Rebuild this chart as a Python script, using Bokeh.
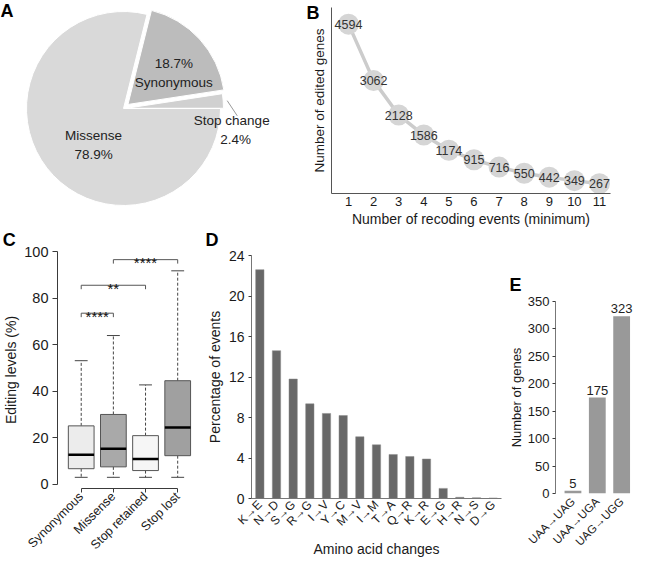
import math
from bokeh.plotting import figure
from bokeh.layouts import row, column
from bokeh.models import Range1d, FactorRange, FixedTicker, Label
from bokeh.core.properties import value
from bokeh.embed import file_html
from bokeh.resources import INLINE

# ---------------- data ----------------
pie_categories = ["Missense", "Synonymous", "Stop change"]
pie_percent = [78.9, 18.7, 2.4]

recoding_events = [1, 2, 3, 4, 5, 6, 7, 8, 9, 10, 11]
edited_genes = [4594, 3062, 2128, 1586, 1174, 915, 716, 550, 442, 349, 267]

box_categories = ["Synonymous", "Missense", "Stop retained", "Stop lost"]
box_whisker_low = [3.0, 3.0, 3.0, 3.0]
box_q1 = [6.7, 7.5, 5.9, 12.3]
box_median = [12.7, 15.3, 10.9, 24.4]
box_q3 = [25.1, 30.0, 20.9, 44.5]
box_whisker_high = [53.1, 63.9, 42.7, 91.7]
sig_pairs = [(1, 2), (1, 3), (2, 4)]
sig_levels = [73.5, 85.5, 96.5]
sig_marks = ["****", "**", "****"]

aa_changes = ["K→E", "N→D", "S→G", "R→G", "I→V", "Y→C", "M→V", "I→M",
              "T→A", "Q→R", "K→R", "E→G", "H→R", "N→S", "D→G"]
aa_percent = [22.6, 14.6, 11.8, 9.35, 8.4, 8.2, 6.1, 5.3,
              4.35, 4.15, 3.9, 1.0, 0.12, 0.08, 0.05]

stop_codon_changes = ["UAA→UAG", "UAA→UGA", "UAG→UGG"]
stop_gene_counts = [5, 175, 323]

# ---------------- style ----------------
FONT = "Liberation Sans"
AX = "#3a3a3a"
TXT = "#1a1a1a"


def make_fig(w, h, xr, yr, left, right, top, bottom, **kw):
    p = figure(width=w, height=h, x_range=xr, y_range=yr,
               output_backend="svg", toolbar_location=None,
               min_border_left=left, min_border_right=right,
               min_border_top=top, min_border_bottom=bottom, **kw)
    p.frame_align = False
    p.outline_line_color = None
    p.background_fill_color = "white"
    p.border_fill_color = "white"
    for g in p.grid:
        g.grid_line_color = None
    return p


def style_axis(ax, tick_size, label_size):
    ax.axis_line_color = AX
    ax.major_tick_line_color = AX
    ax.minor_tick_line_color = None
    ax.major_tick_in = 0
    ax.major_label_text_font = FONT
    ax.major_label_text_font_size = tick_size
    ax.major_label_text_color = TXT
    ax.axis_label_text_font = FONT
    ax.axis_label_text_font_size = label_size
    ax.axis_label_text_font_style = "normal"
    ax.axis_label_text_color = TXT


def letter(p, text, geom, cx, cy, side):
    """Panel letter placed at canvas pixel (cx, cy) using the figure's own scales."""
    (x0, x1, left, fw), (y0, y1, top, fh) = geom
    x = x0 + (cx - left) / fw * (x1 - x0)
    y = y1 - (cy - top) / fh * (y1 - y0)
    lab = Label(x=x, y=y, text=text,
                text_font=FONT, text_font_size="18px", text_font_style="bold",
                text_color="black", text_align="left", text_baseline="top")
    if side == "center":
        p.add_layout(lab)
    else:
        p.add_layout(lab, side)


# ---------------- A: pie ----------------
WA, HA = 298, 229
CX, CY, R = 123, 108, 97
pA = make_fig(WA, HA, Range1d(-CX, WA - CX), Range1d(-(HA - CY), CY), 0, 0, 0, 0,
              x_axis_type=None, y_axis_type=None)
pie_fill = ["#d9d9d9", "#bcbcbc", "#d0d0d0"]
pie_explode = [0, 6, 3]
lab_radius = [0.49, 0.57, 1.15]
lab_shift = [13, -8.4, -16]
total = sum(pie_percent)
start = 0.0
pie_geo = {}
for i in [2, 1, 0]:
    span = pie_percent[i] / total * 2 * math.pi
    pie_geo[i] = (start, start + span)
    start += span
for i in [2, 1, 0]:
    a0, a1 = pie_geo[i]
    mid = (a0 + a1) / 2
    ox, oy = pie_explode[i] * math.cos(mid), pie_explode[i] * math.sin(mid)
    pA.wedge(x=[ox], y=[oy], radius=R, start_angle=[a0], end_angle=[a1],
             fill_color=pie_fill[i], line_color="white", line_width=1)
for i in [2, 1, 0]:
    a0, a1 = pie_geo[i]
    mid = (a0 + a1) / 2
    ox, oy = pie_explode[i] * math.cos(mid), pie_explode[i] * math.sin(mid)
    la = mid + math.radians(lab_shift[i])
    lx = ox + lab_radius[i] * R * math.cos(la)
    ly = oy + lab_radius[i] * R * math.sin(la)
    pct = f"{pie_percent[i]:.1f}%"
    top_line, bottom_line = (pct, pie_categories[i]) if i == 1 else (pie_categories[i], pct)
    pA.text(x=[lx - (4 if i == 2 else 0)], y=[ly], text=[top_line], text_align="center",
            text_baseline="middle", y_offset=-10, text_font=value(FONT),
            text_font_size="13.5px", text_color="#222222")
    pA.text(x=[lx], y=[ly], text=[bottom_line], text_align="center",
            text_baseline="middle", y_offset=9, text_font=value(FONT),
            text_font_size="13.5px", text_color="#222222")
    if i == 2:
        r0, r1 = R + 4, R + 17
        a_end = mid - math.radians(8)
        pA.line(x=[ox + r0 * math.cos(mid), r1 * math.cos(a_end)],
                y=[oy + r0 * math.sin(mid), r1 * math.sin(a_end)],
                line_color="#9a9a9a", line_width=1)
letter(pA, "A", ((-CX, WA - CX, 0, WA), (-(HA - CY), CY, 0, HA)), 0, 0, "center")

# ---------------- B: line ----------------
WB, HB = 336, 229
bl, br, bt, bb = 33, 24, 7, 34
bx0, bx1, by0, by1 = 0.323, 11.44, 0, 5045
pB = make_fig(WB, HB, Range1d(bx0, bx1), Range1d(by0, by1), bl, br, bt, bb)
style_axis(pB.xaxis, "13px", "14px")
style_axis(pB.yaxis, "13px", "13.5px")
pB.xaxis.ticker = FixedTicker(ticks=recoding_events)
pB.xaxis.major_tick_out = 0
pB.xaxis.major_label_standoff = 3
pB.xaxis.axis_label = "Number of recoding events (minimum)"
pB.xaxis.axis_label_standoff = 2
pB.yaxis.ticker = FixedTicker(ticks=[])
pB.yaxis.major_tick_out = 0
pB.yaxis.major_label_standoff = 0
pB.yaxis.axis_label = "Number of edited genes"
pB.yaxis.axis_label_standoff = 5
pB.xaxis.axis_line_color = "#555555"
pB.yaxis.axis_line_color = "#555555"
pB.line(recoding_events, edited_genes, line_color="#cccccc", line_width=3.5)
pB.scatter(recoding_events, edited_genes, size=21, fill_color="#d5d5d5", line_color=None)
pB.text(recoding_events, edited_genes, text=[str(v) for v in edited_genes],
        text_align="center", text_baseline="middle", text_font=value(FONT),
        text_font_size="12.5px", text_color="#333333")
letter(pB, "B", ((bx0, bx1, bl, WB - bl - br), (by0, by1, bt, HB - bt - bb)), 8, 2, "right")

# ---------------- C: box plot ----------------
WC, HC = 203, 330
cl, cr, ct, cb = 51, 2, 22, 60
cx0, cx1, cy0, cy1 = 0.263, 4.74, -1.8, 100
pC = make_fig(WC, HC, Range1d(cx0, cx1), Range1d(cy0, cy1), cl, cr, ct, cb)
style_axis(pC.xaxis, "12.5px", "14px")
style_axis(pC.yaxis, "14.5px", "14px")
bx = [i + 1 for i in range(len(box_categories))]
pC.yaxis.ticker = FixedTicker(ticks=[0, 20, 40, 60, 80, 100])
pC.yaxis.bounds = (0, 100)
pC.yaxis.major_tick_out = 5
pC.yaxis.major_label_standoff = 4
pC.yaxis.axis_label = "Editing levels (%)"
pC.yaxis.axis_label_standoff = 2
pC.xaxis.ticker = FixedTicker(ticks=bx)
pC.xaxis.bounds = (1, len(box_categories))
pC.xaxis.major_label_overrides = {x: c for x, c in zip(bx, box_categories)}
pC.xaxis.major_label_orientation = math.pi / 4
pC.xaxis.major_tick_out = 4
pC.xaxis.major_label_standoff = 2
box_fill = ["#ececec", "#a9a9a9", "#f6f6f6", "#a0a0a0"]
pC.segment(x0=bx, y0=box_q3, x1=bx, y1=box_whisker_high, line_color="#444444",
           line_dash="3 2", line_width=1)
pC.segment(x0=bx, y0=box_q1, x1=bx, y1=box_whisker_low, line_color="#444444",
           line_dash="3 2", line_width=1)
pC.segment(x0=[x - 0.2 for x in bx], y0=box_whisker_high, x1=[x + 0.2 for x in bx],
           y1=box_whisker_high, line_color="#444444", line_width=1)
pC.segment(x0=[x - 0.2 for x in bx], y0=box_whisker_low, x1=[x + 0.2 for x in bx],
           y1=box_whisker_low, line_color="#444444", line_width=1)
pC.vbar(x=bx, width=0.8, bottom=box_q1, top=box_q3, fill_color=box_fill,
        line_color="#555555", line_width=1)
pC.segment(x0=[x - 0.4 for x in bx], y0=box_median, x1=[x + 0.4 for x in bx],
           y1=box_median, line_color="black", line_width=2.5)
pC.multi_line(xs=[[a, a, b, b] for a, b in sig_pairs],
              ys=[[lv - 1.7, lv, lv, lv - 1.7] for lv in sig_levels],
              line_color="#555555", line_width=1)
pC.text(x=[(a + b) / 2 for a, b in sig_pairs], y=sig_levels, text=sig_marks,
        text_align="center", text_baseline="alphabetic", y_offset=3,
        text_font=value(FONT), text_font_size="15px", text_color="#111111")
letter(pC, "C", ((cx0, cx1, cl, WC - cl - cr), (cy0, cy1, ct, HC - ct - cb)), -6, 0, "above")

# ---------------- D: bars ----------------
WD, HD = 302, 330
dl, dr, dt, db = 42, 4, 26, 52
dy0, dy1 = 0, 24
pD = make_fig(WD, HD, FactorRange(factors=aa_changes), Range1d(dy0, dy1), dl, dr, dt, db)
style_axis(pD.xaxis, "12px", "14px")
style_axis(pD.yaxis, "14px", "14px")
pD.yaxis.ticker = FixedTicker(ticks=[0, 4, 8, 12, 16, 20, 24])
pD.yaxis.major_tick_out = 3
pD.yaxis.major_label_standoff = 4
pD.yaxis.axis_label = "Percentage of events"
pD.yaxis.axis_label_standoff = 3
pD.xaxis.major_label_orientation = math.pi / 4
pD.xaxis.major_tick_out = 0
pD.xaxis.major_label_standoff = 4
pD.xaxis.axis_label = "Amino acid changes"
pD.xaxis.axis_label_standoff = 4
pD.xaxis.axis_line_color = "#777777"
pD.yaxis.axis_line_color = "#777777"
pD.vbar(x=aa_changes, top=aa_percent, width=0.5, fill_color="#686868",
        line_color="#8a8a8a", line_width=0.5)
d_geom = ((0, len(aa_changes), dl, WD - dl - dr), (dy0, dy1, dt, HD - dt - db))
letter(pD, "D", d_geom, -5, 0, "above")

# ---------------- E: bars ----------------
WE, HE = 129, 330
el, er, et, eb = 43, 0, 72, 66
ex0, ex1, ey0, ey1 = 0.283, 3.528, 0, 350
pE = make_fig(WE, HE, Range1d(ex0, ex1), Range1d(ey0, ey1), el, er, et, eb)
style_axis(pE.xaxis, "11.5px", "13px")
style_axis(pE.yaxis, "13px", "13px")
ex = [i + 1 for i in range(len(stop_codon_changes))]
pE.yaxis.ticker = FixedTicker(ticks=[0, 50, 100, 150, 200, 250, 300, 350])
pE.yaxis.major_tick_out = 3
pE.yaxis.major_label_standoff = 3
pE.yaxis.axis_label = "Number of genes"
pE.yaxis.axis_label_standoff = 1
pE.yaxis.axis_line_color = "#777777"
pE.xaxis.ticker = FixedTicker(ticks=ex)
pE.xaxis.major_label_overrides = {x: c for x, c in zip(ex, stop_codon_changes)}
pE.xaxis.major_label_orientation = math.pi / 4
pE.xaxis.axis_line_color = None
pE.xaxis.major_tick_line_color = None
pE.xaxis.major_tick_out = 0
pE.xaxis.major_label_standoff = 6
pE.vbar(x=ex, top=stop_gene_counts, width=0.69, fill_color="#999999", line_color=None)
pE.text(x=ex, y=stop_gene_counts, text=[str(c) for c in stop_gene_counts],
        text_align="center", text_baseline="bottom", y_offset=-3,
        text_font=value(FONT), text_font_size="13px", text_color="#222222")
letter(pE, "E", ((ex0, ex1, el, WE - el - er), (ey0, ey1, et, HE - et - eb)), -7, 45, "above")

layout = column(row(pA, pB), row(pC, pD, pE))
open("out.html", "w").write(file_html(layout, INLINE))
